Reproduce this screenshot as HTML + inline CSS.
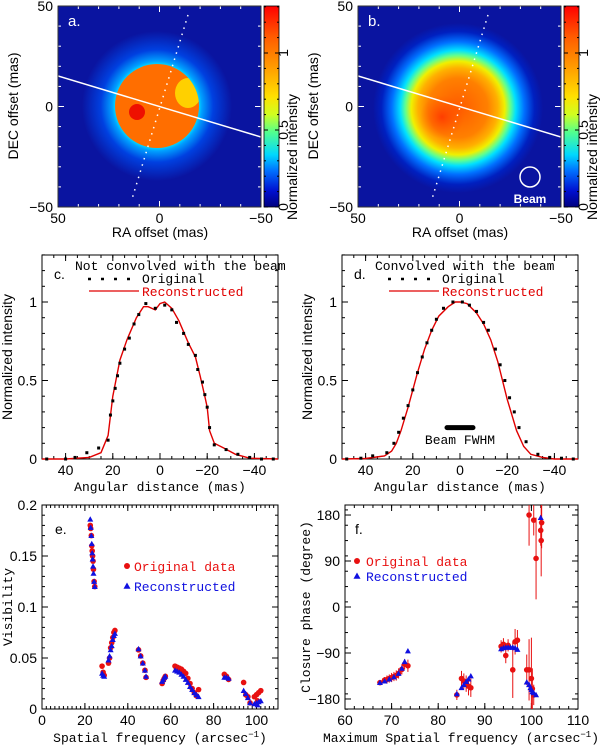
<!DOCTYPE html>
<html><head><meta charset="utf-8"><style>
html,body{margin:0;padding:0;background:#fff;}
svg{display:block;}
.tk{font-family:"Liberation Sans",sans-serif;font-size:14px;fill:#000;}
.lb{font-family:"Liberation Sans",sans-serif;font-size:14px;fill:#000;}
.mono{font-family:"Liberation Mono",monospace;font-size:13px;}
</style></head><body>
<svg id="fig" width="600" height="745" viewBox="0 0 600 745" xmlns="http://www.w3.org/2000/svg">
<defs>
<linearGradient id="cbar" x1="0" y1="1" x2="0" y2="0">
<stop offset="0" stop-color="#000080"/><stop offset="0.08" stop-color="#0010d0"/>
<stop offset="0.18" stop-color="#0070ff"/><stop offset="0.26" stop-color="#00d8ff"/>
<stop offset="0.37" stop-color="#50ff90"/><stop offset="0.46" stop-color="#d0ff20"/>
<stop offset="0.55" stop-color="#ffe000"/><stop offset="0.7" stop-color="#ff9a00"/>
<stop offset="0.85" stop-color="#ff5a00"/><stop offset="1" stop-color="#ff0000"/>
</linearGradient>
<radialGradient id="haloA" cx="157" cy="106" r="75" gradientUnits="userSpaceOnUse">
<stop offset="0.55" stop-color="#00e0ff"/><stop offset="0.6" stop-color="#00a0ff"/>
<stop offset="0.75" stop-color="#0040e0"/><stop offset="1" stop-color="#0a14a0"/>
</radialGradient>
<radialGradient id="blobB" cx="458" cy="108" r="85" gradientUnits="userSpaceOnUse">
<stop offset="0" stop-color="#ff5a00"/><stop offset="0.35" stop-color="#ff8000"/>
<stop offset="0.47" stop-color="#ffb000"/><stop offset="0.55" stop-color="#f0f000"/>
<stop offset="0.62" stop-color="#60ff90"/><stop offset="0.68" stop-color="#00e0ff"/>
<stop offset="0.78" stop-color="#0070ff"/><stop offset="0.9" stop-color="#0020c0"/>
<stop offset="1" stop-color="#0a14a0"/>
</radialGradient>
<radialGradient id="hotB" cx="442" cy="117" r="22" gradientUnits="userSpaceOnUse">
<stop offset="0" stop-color="#ff3000" stop-opacity="0.8"/><stop offset="1" stop-color="#ff5000" stop-opacity="0"/>
</radialGradient>
<clipPath id="clipA"><rect x="58" y="6" width="203" height="201"/></clipPath>
<clipPath id="clipB"><rect x="358" y="6" width="203" height="201"/></clipPath>
<clipPath id="diskA"><circle cx="157" cy="106" r="42"/></clipPath>
</defs>

<g>
<rect x="58" y="6" width="203" height="201" fill="#0a14a0"/>
<g clip-path="url(#clipA)">
<circle cx="157" cy="106" r="75" fill="url(#haloA)"/>
<circle cx="157" cy="106" r="42" fill="#ff6e00"/>
<g clip-path="url(#diskA)"><ellipse cx="188" cy="93" rx="13" ry="15" fill="#ffd000"/></g>
<circle cx="137" cy="112" r="8" fill="#ee1000"/>
<line x1="58" y1="76" x2="261" y2="137" stroke="#fff" stroke-width="1.5"/>
<line x1="188" y1="15" x2="132" y2="199" stroke="#fff" stroke-width="1.5" stroke-dasharray="1.5,5"/>
</g>
<text x="68" y="26" font-family="Liberation Sans,sans-serif" font-size="15" fill="#fff">a.</text>
<rect x="264" y="6" width="15" height="201" fill="url(#cbar)" stroke="#000" stroke-width="0.8"/>
</g>

<g>
<rect x="358" y="6" width="203" height="201" fill="#0a14a0"/>
<g clip-path="url(#clipB)">
<circle cx="458" cy="108" r="85" fill="url(#blobB)"/>
<circle cx="442" cy="117" r="22" fill="url(#hotB)"/>
<line x1="358" y1="76" x2="561" y2="137" stroke="#fff" stroke-width="1.5"/>
<line x1="488" y1="15" x2="432" y2="199" stroke="#fff" stroke-width="1.5" stroke-dasharray="1.5,5"/>
</g>
<text x="368" y="26" font-family="Liberation Sans,sans-serif" font-size="15" fill="#fff">b.</text>
<circle cx="530" cy="177" r="10" fill="none" stroke="#fff" stroke-width="1.5"/>
<text x="530" y="203" text-anchor="middle" font-family="Liberation Sans,sans-serif" font-weight="bold" font-size="12" fill="#fff">Beam</text>
<rect x="564" y="6" width="15" height="201" fill="url(#cbar)" stroke="#000" stroke-width="0.8"/>
</g>
<g id="dyn"></g>
</svg>
<script>
const cOrigX=[48,40,36,31,26,22,21,20,19,18,17,15,13,11,9,6,2,-2,-5,-7,-10,-12,-15,-16,-18,-19,-20,-21,-23,-28,-33,-38,-43,-48];
const cOrigY=[0,0,0.01,0.04,0.07,0.12,0.28,0.37,0.45,0.53,0.61,0.7,0.77,0.86,0.92,0.99,0.96,0.98,0.95,0.87,0.8,0.73,0.66,0.57,0.49,0.41,0.33,0.2,0.09,0.06,0.03,0.01,0,0];
const cRecX=[50,40,30,25,22,20,17,14,10,7,5,2,0,-2,-5,-8,-12,-15,-17,-19,-20,-21,-23,-27,-32,-38,-50];
const cRecY=[0,0,0.01,0.04,0.15,0.4,0.63,0.76,0.9,0.97,0.97,0.95,0.99,1.0,0.96,0.88,0.74,0.65,0.53,0.4,0.33,0.18,0.1,0.07,0.03,0.005,0];
const dOrigX=[48,42,37,31,28,26,24,22,20,18,16,14,12,10,7,3,-1,-4,-7,-10,-12,-15,-17,-19,-21,-23,-25,-28,-33,-38,-43,-48];
const dOrigY=[0,0.005,0.02,0.04,0.1,0.17,0.26,0.34,0.44,0.55,0.65,0.74,0.82,0.89,0.96,1.0,1.0,0.98,0.94,0.87,0.82,0.7,0.6,0.5,0.39,0.3,0.2,0.11,0.03,0.01,0.005,0];
const dRecX=[50,40,32,29,27,25,22,20,18,15,12,9,5,2,0,-3,-7,-10,-13,-16,-18,-20,-22,-24,-27,-30,-35,-40,-50];
const dRecY=[0,0.003,0.02,0.05,0.1,0.18,0.33,0.44,0.55,0.7,0.82,0.91,0.97,1.0,1.0,0.99,0.93,0.86,0.76,0.62,0.5,0.38,0.28,0.18,0.08,0.03,0.01,0,0];
const beamFWHM=[5.5,-5.5];
const visFreq=[22.5,22.7,23,23.2,23.4,23.6,23.8,24,24.3,24.6,28,28.5,29,31,31.5,32,32.5,33,33.5,34,45,46,47,48,48.5,56,56.5,57,57.5,62,63,64,65,66,67,68,69,70,71,72,73,85,86,87,94,95,96,97,99,100,100.5,101,102];
const visOrig=[0.18,0.177,0.17,0.16,0.155,0.15,0.145,0.137,0.125,0.12,0.042,0.036,0.033,0.045,0.05,0.06,0.065,0.07,0.075,0.077,0.058,0.052,0.045,0.038,0.031,0.025,0.028,0.03,0.032,0.042,0.041,0.04,0.039,0.037,0.035,0.03,0.025,0.02,0.016,0.013,0.019,0.034,0.032,0.029,0.026,0.014,0.012,0.006,0.012,0.014,0.008,0.016,0.018];
const visRec=[0.186,0.178,0.17,0.162,0.153,0.147,0.14,0.133,0.125,0.12,0.035,0.033,0.032,0.048,0.052,0.058,0.062,0.068,0.072,0.074,0.059,0.052,0.045,0.038,0.032,0.027,0.029,0.031,0.032,0.038,0.037,0.036,0.034,0.032,0.029,0.026,0.022,0.019,0.016,0.014,0.012,0.031,0.031,0.03,0.018,0.015,0.011,0.006,0.005,0.006,0.004,0.007,0.008];
const cpFreq=[67.5,68.5,69,69.5,70,70.5,71,71.5,72.2,72.8,73.5,84,85,85.5,86,86.5,87,93.5,94,94.5,95,96,96.5,97,99,99.5,100,100.2,100.5,99.5,100.5,101,102,102.1,102.2];
const cpOrig=[-148,-143,-142,-140,-138,-136,-134,-130,-122,-112,-115,-172,-140,-145,-150,-155,-158,-77,-73,-95,-75,-123,-68,-65,-123,-123,-140,-160,-172,180,170,95,150,130,165];
const cpErr=[5,6,8,8,9,9,10,10,10,10,12,10,15,15,16,18,18,12,12,15,12,55,25,20,30,60,80,40,20,60,30,80,30,70,50];
const cpRecFreq=[67.5,68.5,69.5,70.5,71.5,72.2,72.8,73.5,84,85,85.5,86,86.5,87,93.5,94,94.5,95,95.5,96,96.5,97,99,99.5,99.8,100,100.2,100.5,101,102];
const cpRec=[-148,-145,-141,-137,-130,-120,-107,-86,-170,-158,-152,-146,-141,-135,-82,-80,-79,-79,-79,-79,-80,-83,-147,-152,-158,-162,-166,-168,-172,175];

const NS='http://www.w3.org/2000/svg';
const root=document.getElementById('dyn');
function mk(tag,attrs,parent){const e=document.createElementNS(NS,tag);for(const k in attrs)e.setAttribute(k,attrs[k]);(parent||root).appendChild(e);return e;}
function txt(x,y,s,cls,extra,parent){const e=mk('text',Object.assign({x:x,y:y,class:cls},extra||{}),parent);e.textContent=s;return e;}

function frame(name,x0,y0,x1,y1,xs,ys,xmaj,xmin,ymaj,ymin,color,xl,xlabs,yl,ylabs){
  const g=mk('g',{});
  
  
  mk('rect',{x:x0,y:y0,width:x1-x0,height:y1-y0,fill:'none',stroke:color,'stroke-width':1},g);
  xmin.forEach(v=>{const X=xs(v);mk('line',{x1:X,y1:y1,x2:X,y2:y1-3,stroke:color},g);mk('line',{x1:X,y1:y0,x2:X,y2:y0+3,stroke:color},g);});
  xmaj.forEach(v=>{const X=xs(v);mk('line',{x1:X,y1:y1,x2:X,y2:y1-6,stroke:color},g);mk('line',{x1:X,y1:y0,x2:X,y2:y0+6,stroke:color},g);});
  ymin.forEach(v=>{const Y=ys(v);mk('line',{x1:x0,y1:Y,x2:x0+3,y2:Y,stroke:color},g);mk('line',{x1:x1,y1:Y,x2:x1-3,y2:Y,stroke:color},g);});
  ymaj.forEach(v=>{const Y=ys(v);mk('line',{x1:x0,y1:Y,x2:x0+6,y2:Y,stroke:color},g);mk('line',{x1:x1,y1:Y,x2:x1-6,y2:Y,stroke:color},g);});
  xl.forEach((v,i)=>{const t=txt(xs(v),y1+16,xlabs[i],'tk',{'text-anchor':'middle'},g);});
  yl.forEach((v,i)=>{const t=txt(x0-5,ys(v)+5,ylabs[i],'tk',{'text-anchor':'end'},g);});
  return g;
}
function rng(a,b,s){const r=[];for(let v=a;v<=b+1e-9;v+=s)r.push(+v.toFixed(6));return r;}

[[58,'a'],[358,'b']].forEach(([ox,p])=>{
  const xs=v=>ox+(50-v)*2.03, ys=v=>106.5-v*2.01;
  frame('panel-'+p,ox,6,ox+203,207,xs,ys,[50,0,-50],rng(-50,50,10),[50,0,-50],rng(-50,50,10),'#fff',[50,0,-50],['50','0','\u221250'],[50,0,-50],['50','0','\u221250']);
  const r=mk('rect',{x:ox,y:6,width:203,height:201,fill:'none',stroke:'#000','stroke-width':0.8});
  
  let t=txt(ox+102,237,'RA offset (mas)','lb',{'text-anchor':'middle'});
  
  t=txt(0,0,'DEC offset (mas)','lb',{'text-anchor':'middle',transform:'translate('+(ox-40)+',106) rotate(-90)'});
  
  const cx=ox+206, cw=15, cy=v=>207-v*154;
  [0,0.5,1].forEach(v=>{mk('line',{x1:cx,y1:cy(v),x2:cx+4,y2:cy(v),stroke:'#000'});mk('line',{x1:cx+cw,y1:cy(v),x2:cx+cw-4,y2:cy(v),stroke:'#000'});
    const tt=txt(0,0,String(v),'tk',{'font-size':9,'text-anchor':'middle',transform:'translate('+(cx+cw+9)+','+cy(v)+') rotate(-90)'});
    });
  rng(0.1,1.3,0.1).forEach(v=>{mk('line',{x1:cx,y1:cy(v),x2:cx+2,y2:cy(v),stroke:'#000'});mk('line',{x1:cx+cw,y1:cy(v),x2:cx+cw-2,y2:cy(v),stroke:'#000'});});
  t=txt(0,0,'Normalized intensity','tk',{'font-size':10,'text-anchor':'middle',transform:'translate('+(cx+cw+18)+',157) rotate(-90)'});
  
});

function profile(p,ox,title,ox_,oy_,rx,ry){
  const xs=v=>ox+(50-v)*2.36, ys=v=>459-v*157;
  frame('panel-'+p,ox,255,ox+236,459,xs,ys,rng(-40,40,20),rng(-50,50,5),[0,0.5,1],rng(0,1.3,0.1),'#000',[40,20,0,-20,-40],['40','20','0','\u221220','\u221240'],[0,0.5,1],['0','0.5','1']);
  let t=txt(ox+118,491,'Angular distance (mas)','mono',{'text-anchor':'middle','font-size':13});
  
  t=txt(0,0,'Normalized intensity','lb',{'text-anchor':'middle',transform:'translate('+(ox-30)+',357) rotate(-90)'});
  
  t=txt(ox+12,279,p+'.','lb',{'font-size':16});
  
  t=txt(ox+33,270,title,'mono',{'font-size':12});
  
  const l1=mk('line',{x1:ox+46,y1:279,x2:ox+90,y2:279,stroke:'#000','stroke-width':2.5,'stroke-dasharray':'3,10'});
  
  t=txt(ox+100,283,'Original','mono',{'font-size':12});
  
  const l2=mk('line',{x1:ox+47,y1:291,x2:ox+97,y2:291,stroke:'#e00000','stroke-width':1.3});
  
  t=txt(ox+100,296,'Reconstructed','mono',{'font-size':12,fill:'#e00000'});
  
  const pts=rx.map((v,i)=>xs(v).toFixed(1)+','+ys(ry[i]).toFixed(1)).join(' ');
  const pl=mk('polyline',{points:pts,fill:'none',stroke:'#e00000','stroke-width':1.4});
  
  ox_.forEach((v,i)=>{const r=mk('rect',{x:xs(v)-1.5,y:ys(oy_[i])-1.5,width:3,height:3,fill:'#000'});
    });
  return {xs,ys};
}
profile('c',42,'Not convolved with the beam',cOrigX,cOrigY,cRecX,cRecY);
const dAx=profile('d',342,'Convolved with the beam',dOrigX,dOrigY,dRecX,dRecY);
{const b=mk('line',{x1:dAx.xs(beamFWHM[0]),y1:dAx.ys(0.2),x2:dAx.xs(beamFWHM[1]),y2:dAx.ys(0.2),stroke:'#000','stroke-width':5,'stroke-linecap':'round'});

const t=txt(dAx.xs(0),444,'Beam FWHM','mono',{'text-anchor':'middle','font-size':12});
}

function tri(x,y,s,fill,name){const e=mk('polygon',{points:(x)+','+(y-s)+' '+(x-s)+','+(y+s*0.8)+' '+(x+s)+','+(y+s*0.8),fill:fill});
  return e;}
function dot(x,y,r,fill,name){const e=mk('circle',{cx:x,cy:y,r:r,fill:fill});
  return e;}

{
  const xs=v=>42+v*2.145, ys=v=>709-v*1020;
  frame('panel-e',42,505,278,709,xs,ys,rng(0,100,20),rng(0,110,2),rng(0,0.2,0.05),rng(0,0.2,0.01),'#000',rng(0,100,20),['0','20','40','60','80','100'],rng(0,0.2,0.05),['0','0.05','0.1','0.15','0.2']);
  let t=txt(160,742,'Spatial frequency (arcsec','mono',{'text-anchor':'middle','font-size':13});
  const ts=mk('tspan',{dy:-5,'font-size':9},t);ts.textContent='\u22121';
  const ts2=mk('tspan',{dy:5},t);ts2.textContent=')';
  
  t=txt(0,0,'Visibility','mono',{'text-anchor':'middle','font-size':13,transform:'translate(12,607) rotate(-90)'});
  
  t=txt(55,534,'e.','lb',{'font-size':16});
  
  visFreq.forEach((f,i)=>dot(xs(f),ys(visOrig[i]),2.8,'#e81010','visibility-original-point'));
  visFreq.forEach((f,i)=>tri(xs(f),ys(visRec[i]),3,'#1010e0','visibility-reconstructed-point'));
  dot(127,566,3,'#e81010','legend-original-marker');
  t=txt(134,571,'Original data','mono',{'font-size':13,fill:'#e81010'});
  
  tri(127,586,3.5,'#1010e0','legend-reconstructed-marker');
  t=txt(134,591,'Reconstructed','mono',{'font-size':13,fill:'#1010e0'});
  
}
{
  const xs=v=>345+(v-60)*4.66, ys=v=>607-v*0.511;
  frame('panel-f',345,505,578,709,xs,ys,rng(60,110,10),rng(60,110,2),rng(-180,180,90),rng(-200,200,30),'#000',rng(60,110,10),['60','70','80','90','100','110'],rng(-180,180,90),['\u2212180','\u221290','0','90','180']);
  let t=txt(461,742,'Maximum Spatial frequency (arcsec','mono',{'text-anchor':'middle','font-size':13});
  const ts=mk('tspan',{dy:-5,'font-size':9},t);ts.textContent='\u22121';
  const ts2=mk('tspan',{dy:5},t);ts2.textContent=')';
  
  t=txt(0,0,'Closure phase (degree)','mono',{'text-anchor':'middle','font-size':13,transform:'translate(310,607) rotate(-90)'});
  
  t=txt(355,534,'f.','lb',{'font-size':16});
  
  const clip=mk('clipPath',{id:'clipF'});mk('rect',{x:345,y:505,width:233,height:204},clip);
  const g=mk('g',{'clip-path':'url(#clipF)'});
  
  cpFreq.forEach((f,i)=>{const e=mk('line',{x1:xs(f),y1:ys(cpOrig[i]-cpErr[i]),x2:xs(f),y2:ys(cpOrig[i]+cpErr[i]),stroke:'#e81010','stroke-width':1},g);
    });
  cpFreq.forEach((f,i)=>{const e=mk('circle',{cx:xs(f),cy:ys(cpOrig[i]),r:2.8,fill:'#e81010'},g);
    });
  cpRecFreq.forEach((f,i)=>{const X=xs(f),Y=ys(cpRec[i]);const e=mk('polygon',{points:X+','+(Y-3)+' '+(X-3)+','+(Y+2.4)+' '+(X+3)+','+(Y+2.4),fill:'#1010e0'},g);
    });
  dot(357,561,3,'#e81010','legend-original-marker-f');
  t=txt(366,566,'Original data','mono',{'font-size':13,fill:'#e81010'});
  
  tri(357,576,3.5,'#1010e0','legend-reconstructed-marker-f');
  t=txt(366,581,'Reconstructed','mono',{'font-size':13,fill:'#1010e0'});
  
}
</script>
</body></html>
